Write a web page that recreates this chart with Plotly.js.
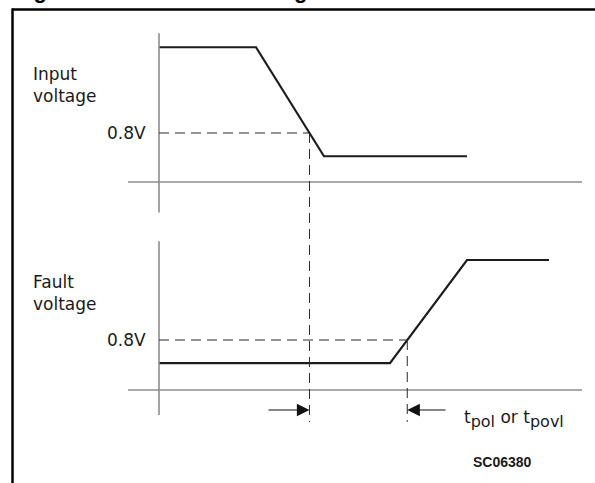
<!DOCTYPE html>
<html><head><meta charset="utf-8">
<script src="https://cdn.plot.ly/plotly-3.0.1.min.js"></script>
<style>html,body{margin:0;padding:0;background:#fff}#chart{width:595px;height:483px}</style>
</head><body><div id="chart"></div>
<script>
// ---- data (time in arbitrary units, voltage in V) ----
const inputTime = [0, 9.7, 16.5, 30.8];
const inputVolt = [2.2, 2.2, 0.42, 0.42];
const faultTime = [0, 23.1, 30.8, 39.0];
const faultVolt = [0.43, 0.43, 2.08, 2.08];
const threshold = 0.8;
const thresholdLabel = '0.8V';
const inputLabel = 'Input<br>voltage';
const faultLabel = 'Fault<br>voltage';
const delayLabel = 't<sub><span style="font-size:16px">pol</span></sub> or t<sub><span style="font-size:16px">povl</span></sub>';
const figCode = 'SC06380';
const figTitle = 'Figure 9. Fault status timing';

// ---- helpers ----
const W = 595, H = 483;
const px = x => x / W;
const py = y => 1 - y / H;
function crossing(ts, vs, level) {
  for (let i = 0; i < ts.length - 1; i++) {
    const a = vs[i] - level, b = vs[i + 1] - level;
    if (a === 0) return ts[i];
    if (a * b < 0) return ts[i] + (ts[i + 1] - ts[i]) * (level - vs[i]) / (vs[i + 1] - vs[i]);
  }
  return ts[ts.length - 1];
}
const tIn = crossing(inputTime, inputVolt, threshold);
const tFa = crossing(faultTime, faultVolt, threshold);

const waveLine = {color: '#1c1c1c', width: 2.2};
const traces = [
  {x: inputTime, y: inputVolt, type: 'scatter', mode: 'lines', line: waveLine, yaxis: 'y', hoverinfo: 'skip'},
  {x: faultTime, y: faultVolt, type: 'scatter', mode: 'lines', line: waveLine, yaxis: 'y2', hoverinfo: 'skip'}
];

const axisCol = '#8c8c8c';
const dashStyle = {color: '#2a2a2a', width: 1, dash: '10px,6px'};
const shapes = [
  // frame
  {type: 'line', xref: 'paper', yref: 'paper', x0: px(12), x1: 1, y0: py(9.5), y1: py(9.5), line: {color: '#000', width: 2.5}},
  {type: 'line', xref: 'paper', yref: 'paper', x0: px(12.5), x1: px(12.5), y0: py(8.5), y1: 0, line: {color: '#000', width: 2.5}},
  // top panel axes
  {type: 'line', xref: 'x', yref: 'y', x0: 0, x1: 0, y0: -0.5, y1: 2.43, line: {color: axisCol, width: 1.6}},
  {type: 'line', xref: 'x', yref: 'y', x0: -3.1, x1: 42.3, y0: 0, y1: 0, line: {color: axisCol, width: 1.6}},
  // bottom panel axes
  {type: 'line', xref: 'x', yref: 'y2', x0: 0, x1: 0, y0: -0.4, y1: 2.38, line: {color: axisCol, width: 1.6}},
  {type: 'line', xref: 'x', yref: 'y2', x0: -3.1, x1: 42.3, y0: 0, y1: 0, line: {color: axisCol, width: 1.6}},
  // threshold dashed lines
  {type: 'line', xref: 'x', yref: 'y', x0: 0, x1: tIn, y0: threshold, y1: threshold, line: dashStyle},
  {type: 'line', xref: 'x', yref: 'y', x0: tIn, x1: tIn, y0: threshold, y1: -3.92, line: dashStyle},
  {type: 'line', xref: 'x', yref: 'y2', x0: 0, x1: tFa, y0: threshold, y1: threshold, line: dashStyle},
  {type: 'line', xref: 'x', yref: 'y2', x0: tFa, x1: tFa, y0: threshold, y1: -0.51, line: dashStyle}
];

const labFont = {family: 'DejaVu Sans', size: 17, color: '#1a1a1a'};
const arrowY = -0.32;
const annotations = [
  {text: figTitle, xref: 'paper', yref: 'paper', x: px(13), y: py(4), xanchor: 'left', yanchor: 'bottom', showarrow: false,
   font: {family: 'Liberation Sans', size: 22, color: '#000', weight: 'bold'}, borderpad: 0},
  {text: inputLabel, xref: 'paper', yref: 'paper', x: px(31), y: py(85), xanchor: 'left', yanchor: 'middle', align: 'left', showarrow: false, font: labFont},
  {text: faultLabel, xref: 'paper', yref: 'paper', x: px(31), y: py(293), xanchor: 'left', yanchor: 'middle', align: 'left', showarrow: false, font: labFont},
  {text: thresholdLabel, xref: 'paper', yref: 'y', x: px(148), y: threshold, xanchor: 'right', yanchor: 'middle', showarrow: false, font: labFont},
  {text: thresholdLabel, xref: 'paper', yref: 'y2', x: px(148), y: threshold, xanchor: 'right', yanchor: 'middle', showarrow: false, font: labFont},
  {text: delayLabel, xref: 'paper', yref: 'paper', x: px(462), y: py(419), xanchor: 'left', yanchor: 'middle', showarrow: false, font: {family: 'DejaVu Sans', size: 17, color: '#1a1a1a'}},
  {text: '<b>' + figCode + '</b>', xref: 'paper', yref: 'paper', x: px(471), y: py(462), xanchor: 'left', yanchor: 'middle', showarrow: false, font: {family: 'Liberation Sans', size: 14, color: '#1a1a1a'}},
  // delay arrows
  {text: '', x: tIn, y: arrowY, xref: 'x', yref: 'y2', ax: 10.8, ay: arrowY, axref: 'x', ayref: 'y2', showarrow: true,
   arrowhead: 2, arrowsize: 2.1, arrowwidth: 1.2, arrowcolor: '#111', standoff: 0},
  {text: '', x: tFa, y: arrowY, xref: 'x', yref: 'y2', ax: 28.8, ay: arrowY, axref: 'x', ayref: 'y2', showarrow: true,
   arrowhead: 2, arrowsize: 2.1, arrowwidth: 1.2, arrowcolor: '#111', standoff: 0}
];

const layout = {
  width: W, height: H,
  margin: {l: 0, r: 0, t: 0, b: 0},
  paper_bgcolor: '#fff', plot_bgcolor: '#fff',
  showlegend: false,
  xaxis: {range: [-15.9, 43.6], visible: false, fixedrange: true},
  yaxis: {range: [-4.914, 2.971], visible: false, fixedrange: true},
  yaxis2: {range: [-1.488, 6.24], visible: false, fixedrange: true, overlaying: 'y'},
  shapes: shapes,
  annotations: annotations
};
Plotly.newPlot('chart', traces, layout, {staticPlot: true, displayModeBar: false});
</script></body></html>
